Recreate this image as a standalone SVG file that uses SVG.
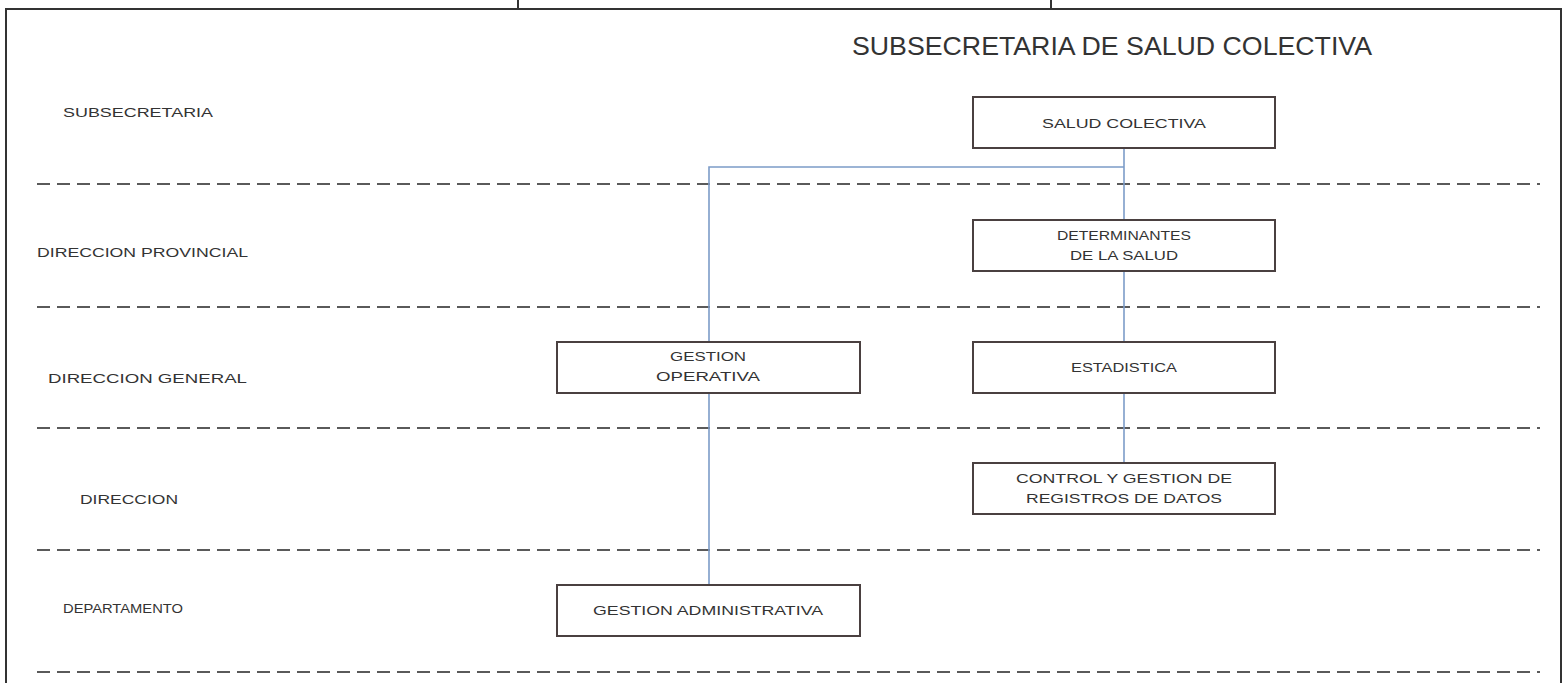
<svg xmlns="http://www.w3.org/2000/svg" width="1567" height="683" viewBox="0 0 1567 683">
<style>
.frame{fill:none;stroke:#333;stroke-width:2}
.dash{stroke:#5a5a5a;stroke-width:2;stroke-dasharray:13 7;fill:none}
.box{fill:#fff;stroke:#4a4040;stroke-width:2}
.conn{stroke:#7c9cc8;stroke-width:1.6;fill:none}
.lbl{font-family:"Liberation Sans",Arial,sans-serif;font-size:13px;fill:#333}
.bt{font-family:"Liberation Sans",Arial,sans-serif;font-size:13px;fill:#333;text-anchor:middle}
.title{font-family:"Liberation Sans",Arial,sans-serif;font-size:26px;fill:#333}
</style>
<rect width="1567" height="683" fill="#fff"/>
<g id="frame">
<path class="frame" d="M6,683 V9 H1561 V683"/>
<path class="frame" d="M518,0 V9 M1051,0 V9"/>
</g>
<g id="levels">
<path class="dash" d="M37,184 H1540 M37,307 H1540 M37,428 H1540 M37,550 H1540 M37,672 H1540"/>
<text class="lbl" x="63" y="117" textLength="150" lengthAdjust="spacingAndGlyphs">SUBSECRETARIA</text>
<text class="lbl" x="37" y="257" textLength="211" lengthAdjust="spacingAndGlyphs">DIRECCION PROVINCIAL</text>
<text class="lbl" x="48" y="383" textLength="199" lengthAdjust="spacingAndGlyphs">DIRECCION GENERAL</text>
<text class="lbl" x="80" y="504" textLength="98" lengthAdjust="spacingAndGlyphs">DIRECCION</text>
<text class="lbl" x="63" y="613" textLength="120" lengthAdjust="spacingAndGlyphs">DEPARTAMENTO</text>
</g>
<text class="title" x="852" y="55" textLength="520" lengthAdjust="spacingAndGlyphs">SUBSECRETARIA DE SALUD COLECTIVA</text>
<g id="connectors">
<path class="conn" d="M1124,148 V463"/>
<path class="conn" d="M1124,167 H709 V585"/>
</g>
<g id="n-salud-colectiva">
<rect class="box" x="973" y="97" width="302" height="51"/>
<text class="bt" x="1124" y="128" textLength="164" lengthAdjust="spacingAndGlyphs">SALUD COLECTIVA</text>
</g>
<g id="n-determinantes">
<rect class="box" x="973" y="220" width="302" height="51"/>
<text class="bt" x="1124" y="240" textLength="134" lengthAdjust="spacingAndGlyphs">DETERMINANTES</text>
<text class="bt" x="1124" y="260" textLength="108" lengthAdjust="spacingAndGlyphs">DE LA SALUD</text>
</g>
<g id="n-estadistica">
<rect class="box" x="973" y="342" width="302" height="51"/>
<text class="bt" x="1124" y="372" textLength="106" lengthAdjust="spacingAndGlyphs">ESTADISTICA</text>
</g>
<g id="n-control">
<rect class="box" x="973" y="463" width="302" height="51"/>
<text class="bt" x="1124" y="483" textLength="216" lengthAdjust="spacingAndGlyphs">CONTROL Y GESTION DE</text>
<text class="bt" x="1124" y="503" textLength="196" lengthAdjust="spacingAndGlyphs">REGISTROS DE DATOS</text>
</g>
<g id="n-gestion-operativa">
<rect class="box" x="557" y="342" width="303" height="51"/>
<text class="bt" x="708" y="361" textLength="76" lengthAdjust="spacingAndGlyphs">GESTION</text>
<text class="bt" x="708" y="381" textLength="104" lengthAdjust="spacingAndGlyphs">OPERATIVA</text>
</g>
<g id="n-gestion-administrativa">
<rect class="box" x="557" y="585" width="303" height="51"/>
<text class="bt" x="708" y="615" textLength="230" lengthAdjust="spacingAndGlyphs">GESTION ADMINISTRATIVA</text>
</g>
</svg>
